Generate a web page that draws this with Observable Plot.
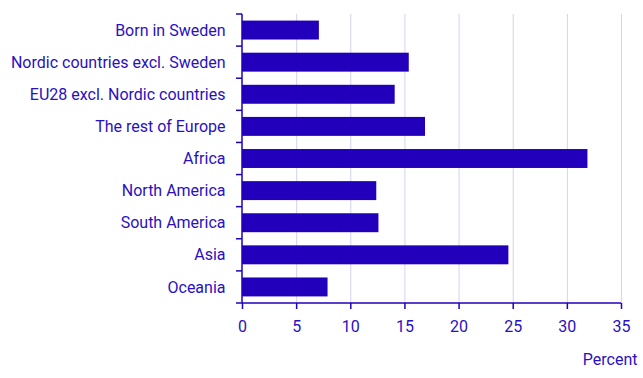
<!DOCTYPE html>
<html>
<head>
<meta charset="utf-8">
<script src="https://cdn.jsdelivr.net/npm/d3@7"></script>
<script src="https://cdn.jsdelivr.net/npm/@observablehq/plot@0.6"></script>
<style>
  html, body { margin: 0; padding: 0; background: #fff; }
  #chart svg { display: block; }
</style>
</head>
<body>
<div id="chart"></div>
<script>
const categories = [
  "Born in Sweden",
  "Nordic countries excl. Sweden",
  "EU28 excl. Nordic countries",
  "The rest of Europe",
  "Africa",
  "North America",
  "South America",
  "Asia",
  "Oceania"
];
const values = [7.1, 15.4, 14.1, 16.9, 31.9, 12.4, 12.6, 24.6, 7.9];
const xTicks = [0, 5, 10, 15, 20, 25, 30, 35];
const unitLabel = "Percent";

const data = categories.map((c, i) => ({category: c, value: values[i]}));
const ink = "#2200bb";
const textInk = "#2a10c0";

const bandTicks = (index, scales, values, dimensions) => {
  const y = scales.y;
  const step = y.step();
  const bw = y.bandwidth();
  const gap = (step - bw) / 2;
  const x0 = dimensions.marginLeft;
  const ys = categories.map(c => y(c) - gap);
  ys.push(y(categories[categories.length - 1]) + bw + gap);
  const g = d3.create("svg:g");
  g.selectAll("line").data(ys).join("line")
    .attr("x1", x0 - 6).attr("x2", x0)
    .attr("y1", d => d).attr("y2", d => d)
    .attr("stroke", ink).attr("stroke-width", 1.5);
  g.append("line")
    .attr("x1", x0).attr("x2", x0)
    .attr("y1", ys[0]).attr("y2", ys[ys.length - 1])
    .attr("stroke", ink).attr("stroke-width", 1.5);
  return g.node();
};

const chart = Plot.plot({
  width: 643,
  height: 378,
  marginLeft: 242,
  marginRight: 22,
  marginTop: 14,
  marginBottom: 75,
  style: {fontFamily: "Roboto", fontSize: "16px", color: textInk, background: "#fff"},
  x: {domain: [0, 35], ticks: xTicks},
  y: {domain: categories, paddingInner: 0.41, paddingOuter: 0.205, round: false},
  marks: [
    Plot.gridX(xTicks.filter(d => d > 0), {stroke: "#d4d2f0", strokeOpacity: 1, strokeWidth: 1}),
    Plot.barX(data, {x: "value", y: "category", fill: ink}),
    Plot.axisY({tickSize: 0, tickPadding: 17, fontSize: 16, fill: textInk, label: null}),
    Plot.axisX({ticks: xTicks, tickSize: 6, tickPadding: 11, fontSize: 16, fill: textInk, stroke: ink, strokeWidth: 1.5, label: null}),
    bandTicks,
    (index, scales, values, dimensions) => {
      const g = d3.create("svg:g");
      const yb = dimensions.height - dimensions.marginBottom;
      g.append("line")
        .attr("x1", dimensions.marginLeft).attr("x2", dimensions.width - dimensions.marginRight)
        .attr("y1", yb).attr("y2", yb)
        .attr("stroke", ink).attr("stroke-width", 1.5);
      return g.node();
    },
    Plot.text([unitLabel], {frameAnchor: "bottom-right", textAnchor: "end", dx: 16, dy: 61, fill: textInk, fontSize: 16})
  ]
});
document.getElementById("chart").appendChild(chart);
</script>
</body>
</html>
